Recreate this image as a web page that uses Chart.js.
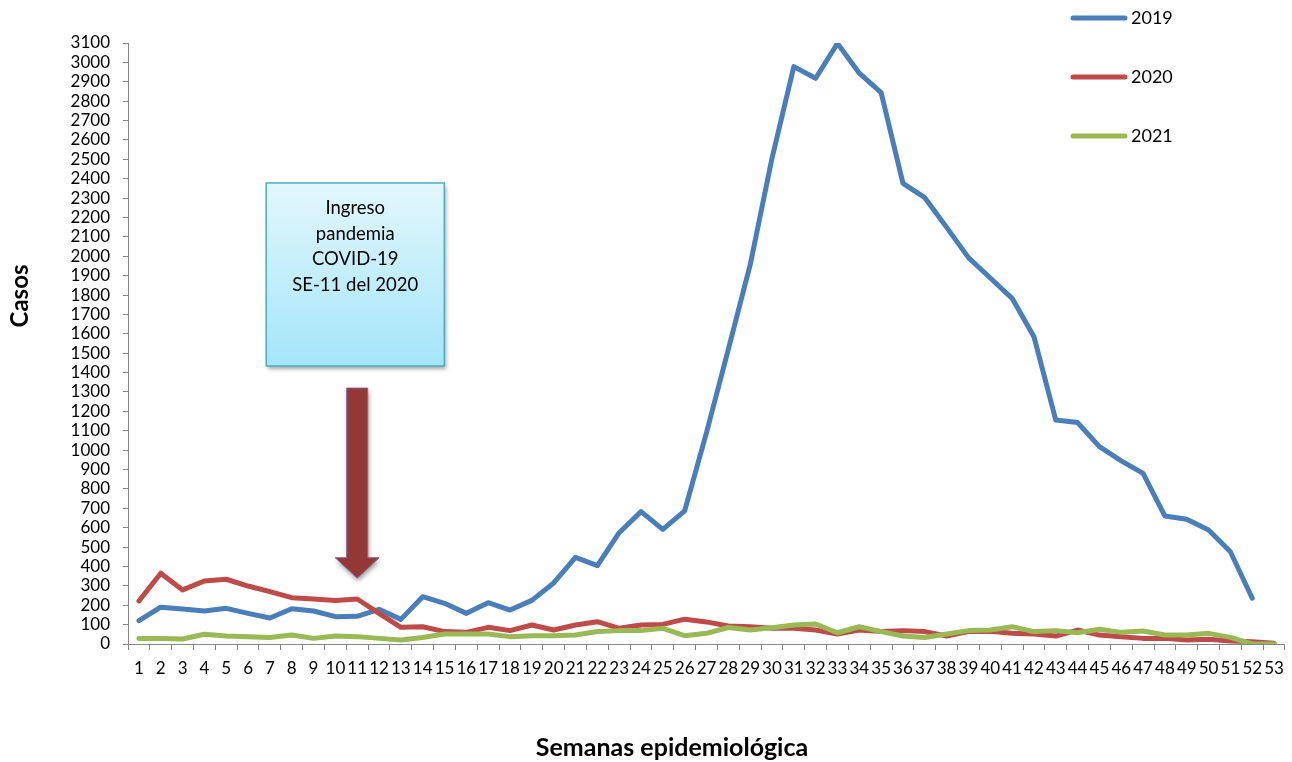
<!DOCTYPE html>
<html>
<head>
<meta charset="utf-8">
<script src="https://cdn.jsdelivr.net/npm/chart.js@4.4.1/dist/chart.umd.min.js"></script>
<style>
html,body{margin:0;padding:0;background:#ffffff;}
#wrap{width:1292px;height:762px;position:relative;}
</style>
</head>
<body>
<div id="wrap"><canvas id="c" width="1292" height="762"></canvas></div>
<script>
const weeks = ['1','2','3','4','5','6','7','8','9','10','11','12','13','14','15','16','17','18','19','20','21','22','23','24','25','26','27','28','29','30','31','32','33','34','35','36','37','38','39','40','41','42','43','44','45','46','47','48','49','50','51','52','53'];

const cases2019 = [120,190,180,170,184,158,134,182,170,141,
                   143,179,127,244,210,158,213,175,225,315,
                   447,404,574,683,591,687,1090,1520,1955,2505,
                   2978,2918,3098,2944,2844,2376,2302,2149,1993,1888,
                   1783,1585,1155,1142,1018,945,880,660,643,588,
                   476,236,null];

const cases2020 = [222,365,279,325,334,299,270,239,232,224,
                   232,158,86,89,64,60,86,69,98,72,
                   98,115,81,98,101,128,114,93,89,81,
                   81,72,52,72,64,69,64,41,64,66,
                   55,52,41,72,46,38,29,29,21,24,
                   15,12,4];

const cases2021 = [29,29,26,50,41,38,33,46,29,41,
                   38,29,21,34,52,52,52,38,43,43,
                   46,64,69,69,81,43,55,85,72,84,
                   98,103,58,89,64,41,34,52,69,72,
                   89,64,69,58,76,60,67,46,46,55,
                   34,0,0];

const seriesLabels = ['2019','2020','2021'];
const seriesColors = ['#4a7ebb','#be4b48','#98b954'];

const yMin = 0;
const yMax = 3100;
const yStep = 100;

const yTitle = 'Casos';
const xTitle = 'Semanas epidemiológica';
const noteLines = ['Ingreso','pandemia','COVID-19','SE-11 del 2020'];

const FONT = 'Lato, "Open Sans", "Liberation Sans", sans-serif';

const overlay = {
  id: 'overlay',
  afterDraw(chart) {
    const ctx = chart.ctx;
    const xs = chart.scales.x, ys = chart.scales.y;

    // Annotation box (anchored to the scales)
    const bx1 = xs.getPixelForValue(5.83), bx2 = xs.getPixelForValue(13.99);
    const by1 = ys.getPixelForValue(2378), by2 = ys.getPixelForValue(1434);
    ctx.save();
    ctx.shadowColor = 'rgba(0,0,0,0.35)';
    ctx.shadowBlur = 4;
    ctx.shadowOffsetX = 2;
    ctx.shadowOffsetY = 3;
    const g = ctx.createLinearGradient(0, by1, 0, by2);
    g.addColorStop(0, '#e3f7fd');
    g.addColorStop(1, '#a4e5f9');
    ctx.fillStyle = g;
    ctx.fillRect(bx1, by1, bx2 - bx1, by2 - by1);
    ctx.restore();
    ctx.save();
    ctx.strokeStyle = '#4bacc6';
    ctx.lineWidth = 1.5;
    ctx.strokeRect(bx1, by1, bx2 - bx1, by2 - by1);
    ctx.fillStyle = '#000';
    ctx.font = '18.5px ' + FONT;
    ctx.textAlign = 'center';
    ctx.textBaseline = 'middle';
    const cx = (bx1 + bx2) / 2;
    noteLines.forEach((t, i) => ctx.fillText(t, cx, by1 + 25 + i * 25.7));
    ctx.restore();

    // Arrow pointing to week 11
    const ax = xs.getPixelForValue(10);
    const aTop = ys.getPixelForValue(1320);
    const aNeck = ys.getPixelForValue(445);
    const aTip = ys.getPixelForValue(340);
    ctx.save();
    ctx.shadowColor = 'rgba(0,0,0,0.4)';
    ctx.shadowBlur = 5;
    ctx.shadowOffsetX = 1;
    ctx.shadowOffsetY = 3;
    ctx.beginPath();
    ctx.moveTo(ax - 10.5, aTop);
    ctx.lineTo(ax + 10.5, aTop);
    ctx.lineTo(ax + 10.5, aNeck);
    ctx.lineTo(ax + 22, aNeck);
    ctx.lineTo(ax, aTip);
    ctx.lineTo(ax - 22, aNeck);
    ctx.lineTo(ax - 10.5, aNeck);
    ctx.closePath();
    ctx.fillStyle = '#953735';
    ctx.fill();
    ctx.shadowColor = 'transparent';
    ctx.strokeStyle = '#8064a2';
    ctx.lineWidth = 1;
    ctx.stroke();
    ctx.restore();

    // Legend
    ctx.save();
    ctx.font = '18px ' + FONT;
    ctx.textAlign = 'left';
    ctx.textBaseline = 'middle';
    chart.data.datasets.forEach((ds, i) => {
      const y = 18 + i * 59;
      ctx.strokeStyle = ds.borderColor;
      ctx.lineWidth = 5;
      ctx.lineCap = 'round';
      ctx.beginPath();
      ctx.moveTo(1073, y);
      ctx.lineTo(1125, y);
      ctx.stroke();
      ctx.fillStyle = '#000';
      ctx.fillText(ds.label, 1131, y);
    });
    ctx.restore();

    // Axis titles
    ctx.save();
    ctx.fillStyle = '#000';
    ctx.textAlign = 'center';
    ctx.textBaseline = 'middle';
    ctx.font = 'bold 25px ' + FONT;
    ctx.fillText(xTitle, 672, 748);
    ctx.font = 'bold 24px ' + FONT;
    ctx.translate(20, 296);
    ctx.rotate(-Math.PI / 2);
    ctx.fillText(yTitle, 0, 0);
    ctx.restore();
  }
};

const mk = (label, data, color, order) => ({
  label, data, borderColor: color, backgroundColor: color,
  borderWidth: 5, pointRadius: 0, pointHoverRadius: 0,
  tension: 0, fill: false, spanGaps: false,
  borderJoinStyle: 'round', borderCapStyle: 'round', order
});

new Chart(document.getElementById('c'), {
  type: 'line',
  data: {
    labels: weeks,
    datasets: [
      mk(seriesLabels[0], cases2019, seriesColors[0], 2),
      mk(seriesLabels[1], cases2020, seriesColors[1], 1),
      mk(seriesLabels[2], cases2021, seriesColors[2], 0)
    ]
  },
  options: {
    responsive: false,
    devicePixelRatio: 1,
    animation: false,
    layout: { padding: { top: 43, right: 7, left: 0, bottom: 0 } },
    plugins: { legend: { display: false }, tooltip: { enabled: false } },
    scales: {
      x: {
        type: 'category',
        offset: true,
        afterFit(s) { s.height = 118; },
        grid: { offset: true, drawOnChartArea: false, drawTicks: true, tickLength: 6, color: '#868686' },
        border: { color: '#868686', width: 1 },
        ticks: { autoSkip: false, maxRotation: 0, minRotation: 0, padding: 8, color: '#000', font: { family: FONT, size: 17 } }
      },
      y: {
        min: yMin, max: yMax,
        afterFit(s) { s.width = 128; },
        grid: { drawOnChartArea: false, drawTicks: true, tickLength: 5, color: '#868686' },
        border: { color: '#868686', width: 1 },
        ticks: {
          stepSize: yStep, autoSkip: false, padding: 13, color: '#000',
          font: { family: FONT, size: 17 },
          callback: (v) => String(v)
        }
      }
    }
  },
  plugins: [overlay]
});
</script>
</body>
</html>
